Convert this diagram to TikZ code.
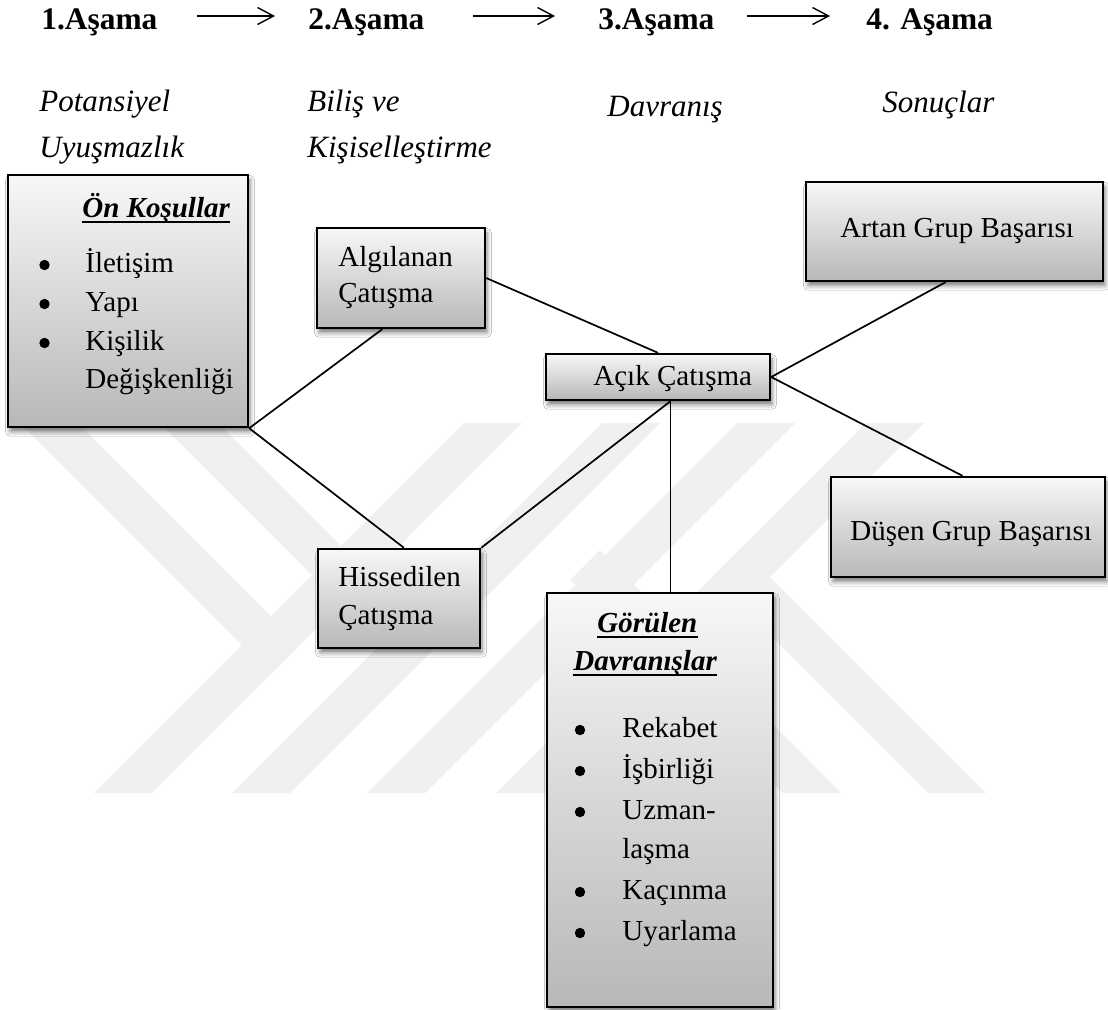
\documentclass[tikz,border=0pt]{standalone}
\usepackage{fontspec}
\setmainfont{Liberation Serif}
\usetikzlibrary{arrows.meta,shadows.blur,calc}

\begin{document}
\begin{tikzpicture}[x=0.5pt,y=-0.5pt,
  wm/.style={fill=black!6},
  box/.style={draw=black, line width=1.2pt, rectangle, inner sep=0pt,
    top color=black!3, bottom color=black!28,
    blur shadow={shadow xshift=1pt, shadow yshift=-2.4pt, shadow blur radius=2.2pt, shadow opacity=50}},
  hdr/.style={font=\fontsize{15.7}{19}\selectfont\bfseries, inner sep=0pt, anchor=base west},
  sub/.style={font=\fontsize{15.5}{19}\selectfont\itshape, inner sep=0pt, anchor=base west},
  body/.style={font=\fontsize{14.5}{17}\selectfont, inner sep=0pt, anchor=base west},
  ttl/.style={font=\fontsize{14.5}{17}\selectfont\bfseries\itshape, inner sep=0pt, anchor=base west},
  uline/.style={line width=1pt},
  link/.style={line width=0.85pt},
  hdrarrow/.style={line width=0.7pt, -{Straight Barb[length=8pt,width=8.5pt,line width=0.7pt]}},
  dot/.style={fill=black}
]
% page
\fill[white] (0,0) rectangle (1108,1009);
\useasboundingbox (0,0) rectangle (1108,1009);

% faint background emblem
\fill[wm] (464,423) -- (522,423) -- (152,793) -- (94,793) -- cycle;
\fill[wm] (20,423) -- (78,423) -- (300,645) -- (271,674) -- cycle;
\fill[wm] (602,423) -- (660,423) -- (290,793) -- (232,793) -- cycle;
\fill[wm] (160,423) -- (218,423) -- (439,644) -- (410,673) -- cycle;
\fill[wm] (737,423) -- (795,423) -- (425,793) -- (367,793) -- cycle;
\fill[wm] (866,423) -- (924,423) -- (554,793) -- (496,793) -- cycle;
\fill[wm] (570,580) -- (600,550) -- (841,793) -- (783,793) -- cycle;
\fill[wm] (712,577) -- (741,548) -- (986,793) -- (928,793) -- cycle;

% stage headings
\node[hdr] (h1) at (41,29) {1.Aşama};
\node[hdr] (h2) at (308,29) {2.Aşama};
\node[hdr] (h3) at (598,29) {3.Aşama};
\node[hdr] (h4) at (866,29) {4. Aşama};
\draw[hdrarrow] ([xshift=19.5pt,yshift=6.5pt]h1.base east) -- ([xshift=-16.5pt,yshift=6.5pt]h2.base west);
\draw[hdrarrow] ([xshift=24pt,yshift=6.5pt]h2.base east) -- ([xshift=-21.5pt,yshift=6.5pt]h3.base west);
\draw[hdrarrow] ([xshift=16pt,yshift=6.5pt]h3.base east) -- ([xshift=-18pt,yshift=6.5pt]h4.base west);

\node[sub] (s1a) at (39,111) {Potansiyel};
\node[sub] (s1b) at (39,157) {Uyuşmazlık};
\node[sub] (s2a) at (307,111) {Biliş ve};
\node[sub] (s2b) at (307,157) {Kişiselleştirme};
\node[sub] (s3) at (607,116) {Davranış};
\node[sub] (s4) at (882,112) {Sonuçlar};

% boxes
\node[box, minimum width=120pt, minimum height=126pt] (pre) at (128,301) {};
\node[box, minimum width=84pt, minimum height=50pt] (alg) at (401,278) {};
\node[box, minimum width=81pt, minimum height=49.5pt] (his) at (399,598.5) {};
\node[box, minimum width=112pt, minimum height=23pt] (ack) at (658,377) {};
\node[box, minimum width=148.5pt, minimum height=49.5pt] (art) at (954.5,231.5) {};
\node[box, minimum width=137pt, minimum height=50pt] (dus) at (968,527) {};
\node[box, minimum width=113pt, minimum height=207pt] (gor) at (660,800) {};

% Ön Koşullar
\node[ttl] (pre-t) at (82,217) {Ön Koşullar};
\draw[uline] ([yshift=-2.4pt]pre-t.base west) -- ([yshift=-2.4pt]pre-t.base east);
\fill[dot] (44.5,265) circle[radius=2.6pt];
\fill[dot] (44.5,304) circle[radius=2.6pt];
\fill[dot] (44.5,343) circle[radius=2.6pt];
\node[body] (pre-1) at (85,272) {İletişim};
\node[body] (pre-2) at (85,311) {Yapı};
\node[body] (pre-3) at (85,350) {Kişilik};
\node[body] (pre-4) at (85,388) {Değişkenliği};

% single boxes
\node[body] (alg-1) at (338,266) {Algılanan};
\node[body] (alg-2) at (338,302) {Çatışma};
\node[body] (his-1) at (338,586) {Hissedilen};
\node[body] (his-2) at (338,624) {Çatışma};
\node[body] (ack-t) at (593,385) {Açık Çatışma};
\node[body] (art-t) at (840,237) {Artan Grup Başarısı};
\node[body] (dus-t) at (850,540) {Düşen Grup Başarısı};

% Görülen Davranışlar
\node[ttl] (gor-t1) at (597,632) {Görülen};
\node[ttl] (gor-t2) at (573,670) {Davranışlar};
\draw[uline] ([yshift=-2.6pt]gor-t1.base west) -- ([yshift=-2.6pt]gor-t1.base east);
\draw[uline] ([yshift=-2.6pt]gor-t2.base west) -- ([yshift=-2.6pt]gor-t2.base east);
\fill[dot] (580,730) circle[radius=2.6pt];
\fill[dot] (580,771) circle[radius=2.6pt];
\fill[dot] (580,812) circle[radius=2.6pt];
\fill[dot] (580,892) circle[radius=2.6pt];
\fill[dot] (580,933) circle[radius=2.6pt];
\node[body] (gor-1) at (622,737) {Rekabet};
\node[body] (gor-2) at (622,778) {İşbirliği};
\node[body] (gor-3) at (622,819) {Uzman-};
\node[body] (gor-3b) at (622,858) {laşma};
\node[body] (gor-4) at (622,899) {Kaçınma};
\node[body] (gor-5) at (622,940) {Uyarlama};

% connectors
\coordinate (ackb) at ($(ack.south west)!0.555!(ack.south east)$);
\draw[link] (pre.south east) -- ($(alg.south west)!0.39!(alg.south east)$);
\draw[link] (pre.south east) -- ($(his.north west)!0.53!(his.north east)$);
\draw[link] (alg.east) -- (ack.north);
\draw[link] (his.north east) -- (ackb);
\draw[link] (ackb) -- (ackb |- gor.north);
\draw[link] (ack.east) -- ($(art.south west)!0.47!(art.south east)$);
\draw[link] (ack.east) -- ($(dus.north west)!0.48!(dus.north east)$);
\end{tikzpicture}
\end{document}
